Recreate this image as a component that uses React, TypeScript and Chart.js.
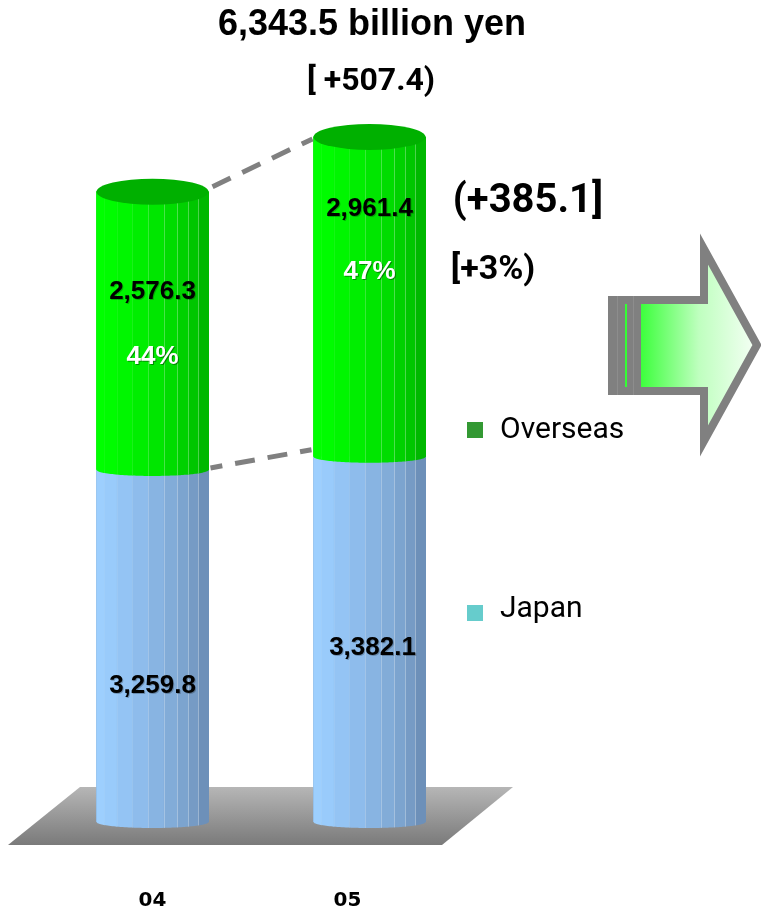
import React, { useEffect, useRef } from 'react';
import { Chart, registerables } from 'chart.js';

Chart.register(...registerables);

// ---------------- data ----------------
const categories = ['04', '05'];
const japanValues = [3259.8, 3382.1];
const overseasValues = [2576.3, 2961.4];
const seriesNames = ['Japan', 'Overseas'];
const legendColors = ['#66cccc', '#339933'];
const unitLabel = ' billion yen';

// ---------------- style / layout ----------------
const W = 761;
const H = 911;
const FACET_STOPS = [0, 0.07, 0.18, 0.32, 0.46, 0.6, 0.72, 0.82, 0.91, 1];
const FACET_LINE_ALPHA = [0, 0.06, 0.08, 0.1, 0.22, 0.28, 0.3, 0.3, 0.3];
const JAPAN_FACETS = ['#9dcffe', '#99cbfb', '#94c4f4', '#8ebcec', '#88b4e2', '#82acd8', '#7ca4cf', '#769bc5', '#6d90b9'];
const GREEN_FACETS = ['#00ff00', '#00fc00', '#00f600', '#00ee00', '#00e600', '#00dc00', '#00d100', '#00c600', '#00b800'];
const CAP_COLOR = '#00b000';
// label centre y positions (pixels) per category
const OVERSEAS_VALUE_Y = [292, 209];
const OVERSEAS_PCT_Y = [357, 272];
const JAPAN_VALUE_Y = [686, 648];
const TICK_X_SHIFT = [0, -22];

const fmt = (v: number) =>
  v.toLocaleString('en-US', { minimumFractionDigits: 1, maximumFractionDigits: 1 });

function drawBody(
  ctx: CanvasRenderingContext2D,
  cx: number,
  w: number,
  yTop: number,
  yBase: number,
  ry: number,
  colors: string[]
) {
  const left = cx - w / 2;
  const rx = w / 2;
  const bottomAt = (x: number) => {
    const t = (x - cx) / rx;
    return yBase + ry * Math.sqrt(Math.max(0, 1 - t * t));
  };
  for (let i = 0; i < colors.length; i++) {
    const x0 = left + FACET_STOPS[i] * w;
    const x1 = left + FACET_STOPS[i + 1] * w;
    ctx.beginPath();
    ctx.moveTo(x0, yTop);
    ctx.lineTo(x1 + 0.5, yTop);
    const steps = 8;
    for (let s = 0; s <= steps; s++) {
      const x = x1 + 0.5 - ((x1 + 0.5 - x0) * s) / steps;
      ctx.lineTo(x, bottomAt(x));
    }
    ctx.closePath();
    ctx.fillStyle = colors[i];
    ctx.fill();
  }
  ctx.lineWidth = 1;
  for (let i = 1; i < colors.length; i++) {
    const x = Math.round(left + FACET_STOPS[i] * w) + 0.5;
    ctx.strokeStyle = `rgba(255,255,255,${FACET_LINE_ALPHA[i]})`;
    ctx.beginPath();
    ctx.moveTo(x, yTop);
    ctx.lineTo(x, bottomAt(x));
    ctx.stroke();
  }
}

const sceneryPlugin = {
  id: 'scenery',
  beforeDatasetsDraw(chart: any) {
    const ctx: CanvasRenderingContext2D = chart.ctx;
    const { left, right } = chart.chartArea;
    const base = chart.scales.y.getPixelForValue(0);
    ctx.save();
    const g = ctx.createLinearGradient(0, base - 35, 0, base + 23);
    g.addColorStop(0, '#b6b6b6');
    g.addColorStop(1, '#7a7a7a');
    ctx.beginPath();
    ctx.moveTo(left + 36, base - 35);
    ctx.lineTo(right + 35, base - 35);
    ctx.lineTo(right - 36, base + 23);
    ctx.lineTo(left - 36, base + 23);
    ctx.closePath();
    ctx.fillStyle = g;
    ctx.fill();
    ctx.restore();
  },
  afterDatasetsDraw(chart: any) {
    const ctx: CanvasRenderingContext2D = chart.ctx;
    const jm = chart.getDatasetMeta(0).data;
    const om = chart.getDatasetMeta(1).data;
    ctx.save();
    for (let i = 0; i < jm.length; i++) {
      const j = jm[i];
      const o = om[i];
      drawBody(ctx, j.x, j.width, j.y, j.base, 6, JAPAN_FACETS);
      drawBody(ctx, o.x, o.width, o.y, o.base, 6, GREEN_FACETS);
      // top cap
      ctx.beginPath();
      ctx.ellipse(o.x, o.y, o.width / 2, 13, 0, 0, Math.PI * 2);
      ctx.fillStyle = CAP_COLOR;
      ctx.fill();
    }
    // dashed connectors
    ctx.strokeStyle = '#808080';
    ctx.lineWidth = 5;
    ctx.setLineDash([20, 13]);
    const a0 = om[0], a1 = om[1];
    ctx.beginPath();
    ctx.moveTo(a0.x + a0.width / 2 + 4, a0.y - 5);
    ctx.lineTo(a1.x - a1.width / 2 - 1, a1.y + 2);
    ctx.stroke();
    const b0 = jm[0], b1 = jm[1];
    ctx.lineDashOffset = 8;
    ctx.beginPath();
    ctx.moveTo(b0.x + b0.width / 2 + 2, b0.y - 2);
    ctx.lineTo(b1.x - b1.width / 2 - 2, b1.y - 7);
    ctx.stroke();
    ctx.setLineDash([]);

    // value labels
    ctx.textAlign = 'center';
    ctx.textBaseline = 'middle';
    ctx.shadowOffsetX = 1;
    ctx.shadowOffsetY = 1;
    ctx.shadowBlur = 0;
    ctx.font = "bold 26px 'Liberation Sans', Arial, sans-serif";
    for (let i = 0; i < jm.length; i++) {
      const total = japanValues[i] + overseasValues[i];
      ctx.shadowColor = 'rgba(0,0,0,0.25)';
      ctx.fillStyle = '#000000';
      ctx.fillText(fmt(overseasValues[i]), om[i].x, OVERSEAS_VALUE_Y[i]);
      ctx.fillText(fmt(japanValues[i]), jm[i].x + (i === 1 ? 3 : 0), JAPAN_VALUE_Y[i]);
      ctx.fillStyle = '#ffffff';
      ctx.shadowColor = 'rgba(0,0,0,0.4)';
      ctx.fillText(Math.round((overseasValues[i] / total) * 100) + '%', om[i].x, OVERSEAS_PCT_Y[i]);
    }
    ctx.restore();
  },
  afterDraw(chart: any) {
    const ctx: CanvasRenderingContext2D = chart.ctx;
    const xs = chart.scales.x;
    ctx.save();
    // x tick labels
    ctx.fillStyle = '#000000';
    ctx.textAlign = 'center';
    ctx.textBaseline = 'middle';
    ctx.font = "bold 20px 'DejaVu Sans', sans-serif";
    categories.forEach((c, i) => {
      ctx.fillText(c, xs.getPixelForValue(i) + TICK_X_SHIFT[i], 901);
    });

    // titles
    const n = categories.length - 1;
    const totals = categories.map((_, i) => japanValues[i] + overseasValues[i]);
    ctx.font = "bold 36px 'Liberation Sans', Arial, sans-serif";
    ctx.fillText(fmt(totals[n]) + unitLabel, 372, 25);
    ctx.font = "bold 32px Roboto, sans-serif";
    ctx.fillText('[ +' + fmt(totals[n] - totals[n - 1]) + ')', 371, 82);
    ctx.font = "bold 40px Roboto, sans-serif";
    ctx.fillText('(+' + fmt(overseasValues[n] - overseasValues[n - 1]) + ']', 528, 202);
    const p0 = Math.round((overseasValues[n - 1] / totals[n - 1]) * 100);
    const p1 = Math.round((overseasValues[n] / totals[n]) * 100);
    ctx.font = "bold 34px Roboto, sans-serif";
    ctx.fillText('[+' + (p1 - p0) + '%)', 493, 270);

    // legend
    ctx.textAlign = 'left';
    ctx.textBaseline = 'alphabetic';
    ctx.font = "30px Roboto, sans-serif";
    const legendY = [613, 430];
    const textBase = [617, 438];
    seriesNames.forEach((name, i) => {
      ctx.fillStyle = legendColors[i];
      ctx.fillRect(467, legendY[i] - 8, 16, 16);
      ctx.fillStyle = '#000000';
      ctx.fillText(name, 500, textBase[i]);
    });

    // arrow
    ctx.fillStyle = '#808080';
    ctx.fillRect(608, 296, 33, 99);
    ctx.fillStyle = '#33ff33';
    ctx.fillRect(625, 304, 2, 83);
    ctx.strokeStyle = 'rgba(150,150,150,0.6)';
    ctx.lineWidth = 1;
    ctx.beginPath();
    ctx.moveTo(617.5, 296);
    ctx.lineTo(617.5, 395);
    ctx.moveTo(633.5, 296);
    ctx.lineTo(633.5, 395);
    ctx.stroke();
    const ag = ctx.createLinearGradient(641, 0, 757, 0);
    ag.addColorStop(0, '#3dff3d');
    ag.addColorStop(0.5, '#bfffbf');
    ag.addColorStop(1, '#f6fff6');
    const arrowPath = () => {
      ctx.beginPath();
      ctx.moveTo(641, 300);
      ctx.lineTo(704, 300);
      ctx.lineTo(704, 249);
      ctx.lineTo(757, 345);
      ctx.lineTo(704, 441);
      ctx.lineTo(704, 391);
      ctx.lineTo(641, 391);
    };
    arrowPath();
    ctx.fillStyle = ag;
    ctx.fill();
    ctx.strokeStyle = '#808080';
    ctx.lineWidth = 8;
    ctx.lineJoin = 'miter';
    arrowPath();
    ctx.stroke();
    ctx.restore();
  },
};

export default function App() {
  const ref = useRef<HTMLCanvasElement | null>(null);
  useEffect(() => {
    if (!ref.current) return;
    const chart = new Chart(ref.current, {
      type: 'bar',
      data: {
        labels: categories,
        datasets: [
          {
            label: seriesNames[0],
            data: japanValues,
            backgroundColor: '#86b3e0',
            borderWidth: 0,
            barThickness: 112,
          },
          {
            label: seriesNames[1],
            data: overseasValues,
            backgroundColor: '#00e000',
            borderWidth: 0,
            barThickness: 112,
          },
        ],
      },
      options: {
        responsive: false,
        animation: false,
        devicePixelRatio: 1,
        layout: { padding: { left: 44, right: 283, top: 66, bottom: 89 } },
        plugins: {
          legend: { display: false },
          tooltip: { enabled: false },
          title: { display: false },
        },
        scales: {
          x: { display: false, stacked: true },
          y: { display: false, stacked: true, min: 0, max: 7000 },
        },
      },
      plugins: [sceneryPlugin],
    });
    return () => chart.destroy();
  }, []);
  return (
    <div style={{ position: 'absolute', left: 0, top: 0, width: W, height: H, background: '#ffffff' }}>
      <canvas ref={ref} width={W} height={H} style={{ width: W, height: H, display: 'block' }} />
    </div>
  );
}
